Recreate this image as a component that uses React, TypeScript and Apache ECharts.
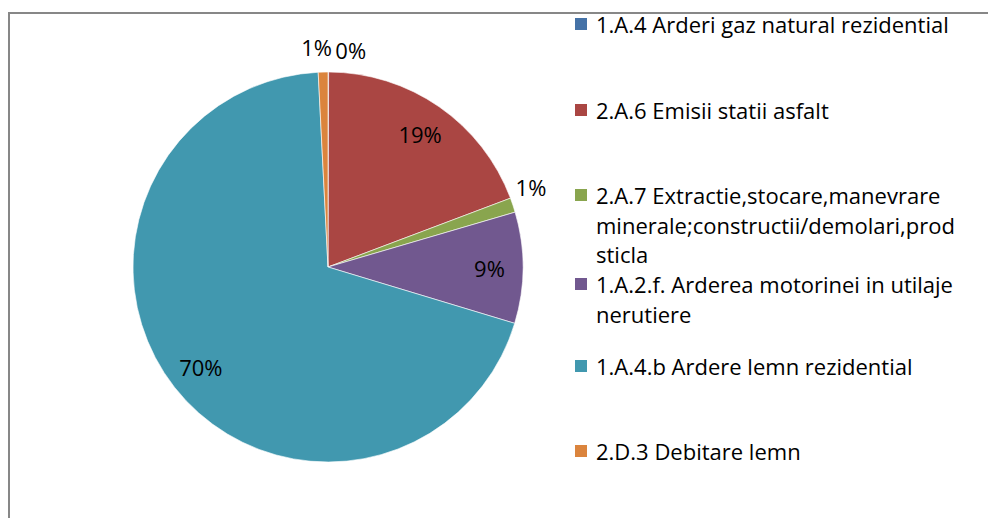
import React, { useEffect, useRef } from "react";
import * as echarts from "echarts";

const categories = [
  "1.A.4 Arderi gaz natural rezidential",
  "2.A.6 Emisii statii asfalt",
  "2.A.7 Extractie,stocare,manevrare minerale;constructii/demolari,prod sticla",
  "1.A.2.f. Arderea motorinei in utilaje nerutiere",
  "1.A.4.b Ardere lemn rezidential",
  "2.D.3 Debitare lemn",
];
const legendLines = [
  ["1.A.4 Arderi gaz natural rezidential"],
  ["2.A.6 Emisii statii asfalt"],
  ["2.A.7 Extractie,stocare,manevrare", "minerale;constructii/demolari,prod", "sticla"],
  ["1.A.2.f. Arderea motorinei in utilaje", "nerutiere"],
  ["1.A.4.b Ardere lemn rezidential"],
  ["2.D.3 Debitare lemn"],
];
const values = [0.05, 19.2, 1.2, 9.2, 69.5, 0.8];
const colors = ["#4572A7", "#AA4643", "#89A54E", "#71588F", "#4198AF", "#DB843D"];

const FONT = "Open Sans";
const FS = 22;
const LH = 29.5;
const ICON = 14;
const legendCenters = [24, 110, 195, 284, 366, 451];
const smallSlice = [true, false, true, false, false, true];
const outsideShift: Record<number, [number, number]> = {
  0: [5, -16],
  2: [-5, -16],
  5: [11, -19],
};

export default function App() {
  const ref = useRef<HTMLDivElement>(null);
  useEffect(() => {
    if (!ref.current) return;
    const chart = echarts.init(ref.current, null, { renderer: "svg" });
    const fmt = (p: any) => Math.round(p.percent) + "%";
    const legends = categories.map((name, i) => {
      const n = legendLines[i].length;
      const ih = ICON + (n - 1) * LH;
      const icon =
        n === 1
          ? "rect"
          : `path://M0,0L${ICON},0L${ICON},${ICON}L0,${ICON}Z M0,${ih - 0.01}L0.01,${ih - 0.01}L0.01,${ih}L0,${ih}Z`;
      return {
        orient: "vertical",
        left: 573,
        top: legendCenters[i] - LH / 2,
        padding: 0,
        itemWidth: ICON,
        itemHeight: ih,
        itemGap: 10,
        icon,
        selectedMode: false,
        data: [name],
        formatter: () => legendLines[i].join("\n"),
        textStyle: {
          fontFamily: FONT,
          fontSize: FS,
          lineHeight: LH,
          color: "#000",
          padding: [0, 0, 0, 3],
        },
      };
    });
    chart.setOption({
      animation: false,
      color: colors,
      graphic: [
        {
          type: "rect",
          shape: { x: 9, y: 13, width: 1200, height: 700 },
          style: { fill: "none", stroke: "#878787", lineWidth: 2 },
          silent: true,
        },
      ],
      legend: legends,
      series: [
        {
          type: "pie",
          center: [328, 267],
          radius: 195,
          startAngle: 90,
          clockwise: true,
          avoidLabelOverlap: false,
          itemStyle: { borderColor: "#ffffff", borderWidth: 0.6 },
          label: {
            position: "outside",
            formatter: fmt,
            fontFamily: FONT,
            fontSize: FS,
            color: "#000",
            distanceToLabelLine: 2,
          },
          labelLine: { show: false, length: 6, length2: 0 },
          labelLayout: (p: any) => {
            const s = outsideShift[p.dataIndex];
            return s ? { dx: s[0], dy: s[1] } : {};
          },
          data: categories.map((name, i) => ({
            name,
            value: values[i],
            label: { show: smallSlice[i] },
          })),
        },
        {
          type: "pie",
          center: [328, 267],
          radius: [122, 195],
          startAngle: 90,
          clockwise: true,
          silent: true,
          itemStyle: { color: "rgba(0,0,0,0)", borderWidth: 0 },
          label: {
            position: "inside",
            formatter: fmt,
            fontFamily: FONT,
            fontSize: FS,
            color: "#000",
          },
          labelLine: { show: false },
          data: categories.map((name, i) => ({
            name,
            value: values[i],
            label: { show: !smallSlice[i] },
          })),
        },
      ],
    });
    return () => chart.dispose();
  }, []);
  return (
    <div
      ref={ref}
      style={{ position: "fixed", left: 0, top: 0, width: "988px", height: "518px", background: "#fff" }}
    />
  );
}
